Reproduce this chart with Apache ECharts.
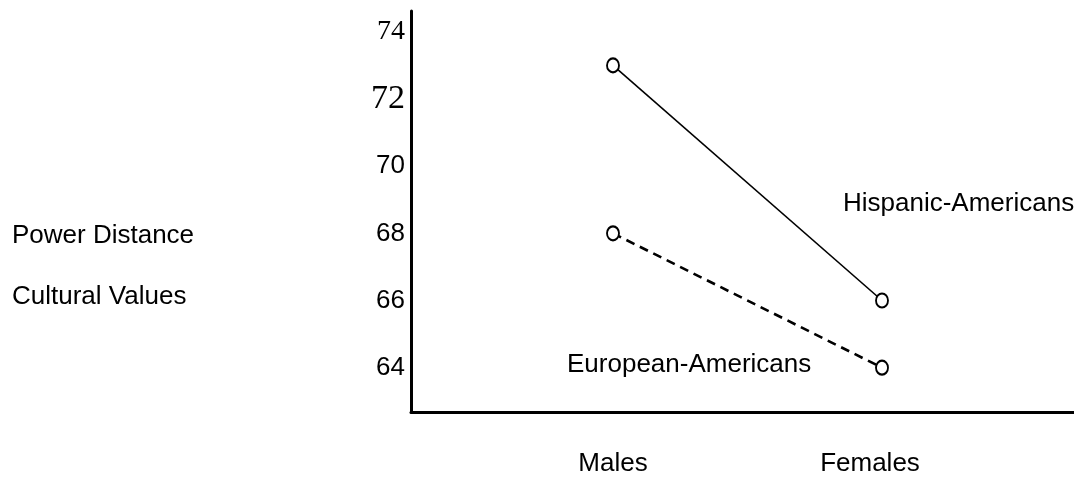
<!DOCTYPE html>
<html><head><meta charset="utf-8">
<script src="https://cdn.jsdelivr.net/npm/echarts@6/dist/echarts.min.js"></script>
<style>html,body{margin:0;padding:0;background:#fff}#c{width:1074px;height:479px}</style>
</head><body><div id="c"></div>
<script>
const categories = ['Males', 'Females'];
const hispanic = [73, 66];
const european = [68, 64];
const yTicks = [64, 66, 68, 70, 72, 74];
const seriesNames = ['Hispanic-Americans', 'European-Americans'];
const axisTitle = ['Power Distance', 'Cultural Values'];

const SANS = 'Liberation Sans, Arial, sans-serif';
const SERIF = 'Liberation Serif, Times New Roman, serif';
const yMin = 62.68, yMax = 74.62;

const chart = echarts.init(document.getElementById('c'), null, {renderer: 'canvas'});
chart.setOption({
  animation: false,
  backgroundColor: '#fff',
  title: [
    {text: axisTitle.join('\n'), left: 12, top: 205, padding: 0,
     textStyle: {fontFamily: SANS, fontSize: 26, fontWeight: 'normal', color: '#000', lineHeight: 61}},
    {text: seriesNames[0], left: 843, top: 189, padding: 0,
     textStyle: {fontFamily: SANS, fontSize: 26, fontWeight: 'normal', color: '#000', lineHeight: 30}},
    {text: seriesNames[1], left: 567, top: 350, padding: 0,
     textStyle: {fontFamily: SANS, fontSize: 26, fontWeight: 'normal', color: '#000', lineHeight: 30}}
  ],
  grid: [
    {left: 411, right: 0, top: 11, bottom: 67},
    {left: 613, right: 192, top: 11, bottom: 67}
  ],
  xAxis: [
    {type: 'value', gridIndex: 0, min: 0, max: 1,
     axisLine: {show: true, lineStyle: {color: '#000', width: 3}},
     axisTick: {show: false}, axisLabel: {show: false}, splitLine: {show: false}},
    {type: 'category', gridIndex: 1, boundaryGap: false,
     data: categories.map((c, i) => i === 1 ? {value: c, textStyle: {padding: [0, 24, 0, 0]}} : c),
     axisLine: {show: false}, axisTick: {show: false}, splitLine: {show: false},
     axisLabel: {margin: 37, fontFamily: SANS, fontSize: 26, color: '#000', lineHeight: 30}}
  ],
  yAxis: [
    {type: 'value', gridIndex: 0, min: yMin, max: yMax,
     axisLine: {show: true, lineStyle: {color: '#000', width: 3}},
     axisTick: {show: false}, splitLine: {show: false},
     axisLabel: {
       customValues: yTicks, margin: 6, color: '#000',
       formatter: v => v === 72 ? '{b|72}' : (v === 74 ? '{a|74}' : '{n|' + v + '}'),
       rich: {
         a: {fontFamily: SERIF, fontSize: 28, color: '#000'},
         b: {fontFamily: SERIF, fontSize: 34, color: '#000'},
         n: {fontFamily: SANS, fontSize: 26, color: '#000'}
       }
     }},
    {type: 'value', gridIndex: 1, min: yMin, max: yMax, show: false}
  ],
  series: [
    {name: seriesNames[0], type: 'line', xAxisIndex: 1, yAxisIndex: 1, data: hispanic,
     color: '#000', symbol: 'emptyCircle', symbolSize: [12, 14],
     itemStyle: {color: '#000', borderWidth: 2.2},
     lineStyle: {color: '#000', width: 1.6}},
    {name: seriesNames[1], type: 'line', xAxisIndex: 1, yAxisIndex: 1, data: european,
     color: '#000', symbol: 'emptyCircle', symbolSize: [12, 14],
     itemStyle: {color: '#000', borderWidth: 2.2},
     lineStyle: {color: '#000', width: 2.6, type: [9, 6]}}
  ]
});
</script>
</body></html>
